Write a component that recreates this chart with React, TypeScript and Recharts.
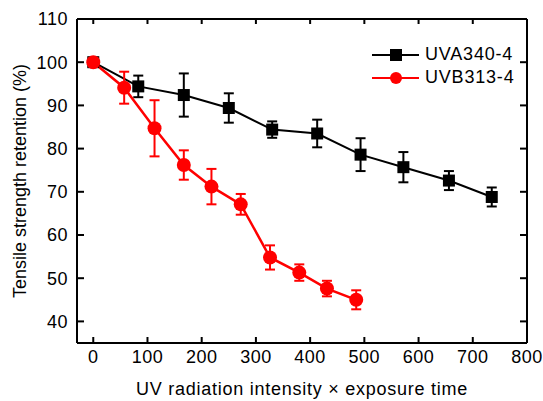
import React from 'react';
import { LineChart, Line, XAxis, YAxis, ErrorBar, Legend } from 'recharts';

// values
const uvaX = [0, 83, 167, 250, 330, 413, 493, 572, 656, 735];
const uvaY = [100, 94.4, 92.4, 89.4, 84.4, 83.5, 78.6, 75.7, 72.6, 68.8];
const uvaErr = [0, 2.5, 5.0, 3.4, 1.9, 3.2, 3.8, 3.5, 2.2, 2.2];

const uvbX = [0, 57, 113, 167, 218, 272, 326, 380, 431, 485];
const uvbY = [100, 94.1, 84.7, 76.2, 71.2, 67.1, 54.8, 51.3, 47.6, 45.0];
const uvbErr = [0, 3.7, 6.5, 3.4, 4.1, 2.4, 2.8, 1.9, 1.8, 2.2];

const xTicks = [0, 100, 200, 300, 400, 500, 600, 700, 800];
const yTicks = [40, 50, 60, 70, 80, 90, 100, 110];

const FONT = '"Liberation Sans", Arial, Helvetica, sans-serif';
const RED = '#ff0000';

const uvaData = uvaX.map((x, i) => ({ x, y: uvaY[i], err: uvaErr[i] }));
const uvbData = uvbX.map((x, i) => ({ x, y: uvbY[i], err: uvbErr[i] }));

const SquareDot = (p: any) => (
  <rect key={`sq-${p.index}`} x={p.cx - 6} y={p.cy - 6} width={12} height={12} fill="#000" />
);
const CircleDot = (p: any) => (
  <circle key={`ci-${p.index}`} cx={p.cx} cy={p.cy} r={7} fill={RED} />
);
const NoLabel = () => <g />;

const LegendBox = () => (
  <div style={{ fontFamily: FONT, fontSize: 18, letterSpacing: 0.8, color: '#000' }}>
    {[
      { name: 'UVA340-4', color: '#000', square: true },
      { name: 'UVB313-4', color: RED, square: false },
    ].map((s) => (
      <div key={s.name} style={{ display: 'flex', alignItems: 'center', height: 23 }}>
        <svg width={47} height={16}>
          <line x1={0} y1={8} x2={47} y2={8} stroke={s.color} strokeWidth={2} />
          {s.square ? (
            <rect x={18} y={2} width={12} height={12} fill={s.color} />
          ) : (
            <circle cx={24} cy={8} r={6} fill={s.color} />
          )}
        </svg>
        <span style={{ marginLeft: 6 }}>{s.name}</span>
      </div>
    ))}
  </div>
);

const axisLine = { stroke: '#000', strokeWidth: 2 };
const innerTick = { stroke: '#000', strokeWidth: 2 };
const tickStyle = { fontFamily: FONT, fontSize: 18, letterSpacing: 0.5, fill: '#000' };

export default function App() {
  return (
    <div style={{ position: 'absolute', left: 0, top: 0, background: '#fff' }}>
      <LineChart width={543} height={401} margin={{ top: 19, right: 16, bottom: 0, left: 0 }}>
        <XAxis
          xAxisId="b"
          dataKey="x"
          type="number"
          domain={[-30, 800]}
          ticks={xTicks}
          axisLine={axisLine}
          tickLine={false}
          tickSize={6}
          tickMargin={1}
          tick={tickStyle}
          height={58}
          label={{
            value: 'UV radiation intensity × exposure time',
            position: 'insideBottom',
            offset: 6,
            style: { fontFamily: FONT, fontSize: 18, letterSpacing: 0.75, fill: '#000' },
          }}
        />
        <XAxis xAxisId="bm" dataKey="x" type="number" orientation="bottom" mirror domain={[-30, 800]}
          ticks={xTicks} axisLine={false} tick={NoLabel} tickSize={6} tickLine={innerTick} />
        <XAxis xAxisId="t" dataKey="x" type="number" orientation="top" mirror domain={[-30, 800]}
          ticks={xTicks} axisLine={axisLine} tick={NoLabel} tickSize={5} tickLine={innerTick} />
        <YAxis
          yAxisId="l"
          type="number"
          domain={[35, 110]}
          ticks={yTicks}
          axisLine={axisLine}
          tickLine={false}
          tickSize={6}
          tickMargin={3}
          tick={tickStyle}
          width={77}
          label={{
            value: 'Tensile strength retention (%)',
            angle: -90,
            position: 'insideLeft',
            offset: 20,
            style: { fontFamily: FONT, fontSize: 18, fill: '#000', textAnchor: 'middle' },
          }}
        />
        <YAxis yAxisId="lm" type="number" orientation="left" mirror domain={[35, 110]} ticks={yTicks}
          axisLine={false} tick={NoLabel} tickSize={7} tickLine={innerTick} />
        <YAxis yAxisId="r" type="number" orientation="right" mirror domain={[35, 110]} ticks={yTicks}
          axisLine={axisLine} tick={NoLabel} tickSize={7} tickLine={innerTick} />
        <Legend
          layout="vertical"
          align="center"
          verticalAlign="middle"
          content={<LegendBox />}
          wrapperStyle={{ position: 'absolute', left: 372, top: 43, width: 160 }}
        />
        {/* invisible series so the frame-only axes get drawn */}
        <Line xAxisId="bm" yAxisId="lm" data={uvaData} dataKey="y" stroke="none" dot={false}
          activeDot={false} legendType="none" isAnimationActive={false} />
        <Line xAxisId="t" yAxisId="r" data={uvaData} dataKey="y" stroke="none" dot={false}
          activeDot={false} legendType="none" isAnimationActive={false} />
        <Line
          xAxisId="b"
          yAxisId="l"
          data={uvaData}
          dataKey="y"
          name="UVA340-4"
          stroke="#000"
          strokeWidth={2}
          dot={SquareDot}
          activeDot={false}
          isAnimationActive={false}
        >
          <ErrorBar dataKey="err" direction="y" width={5} stroke="#000" strokeWidth={2} />
        </Line>
        <Line
          xAxisId="b"
          yAxisId="l"
          data={uvbData}
          dataKey="y"
          name="UVB313-4"
          stroke={RED}
          strokeWidth={2.5}
          dot={CircleDot}
          activeDot={false}
          isAnimationActive={false}
        >
          <ErrorBar dataKey="err" direction="y" width={5} stroke={RED} strokeWidth={2} />
        </Line>
      </LineChart>
    </div>
  );
}
